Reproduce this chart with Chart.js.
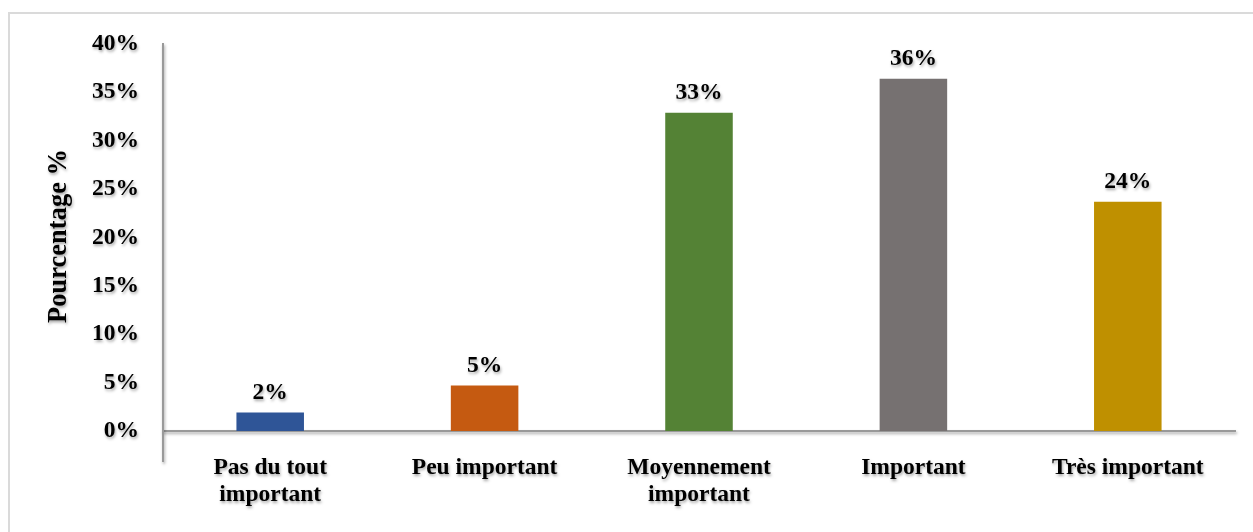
<!DOCTYPE html>
<html>
<head>
<meta charset="utf-8">
<script src="https://cdn.jsdelivr.net/npm/chart.js@4/dist/chart.umd.min.js"></script>
<style>
    html, body { margin: 0; padding: 0; background: #fff; overflow: hidden; }
    #frame {
        position: absolute; left: 8px; top: 12px;
        width: 1270px; height: 560px;
        border: 2px solid #dadada; box-sizing: border-box;
    }
    #chart { position: absolute; left: 0; top: 0; }
</style>
</head>
<body>
<div id="frame"></div>
<canvas id="chart" width="1253" height="532"></canvas>
<script>
// Categories and percentages
const categories = [['Pas du tout', 'important'], 'Peu important', ['Moyennement', 'important'], 'Important', 'Très important'];
const percentages = [1.9, 4.7, 32.9, 36.4, 23.7];
const barColors = ['#2F5597', '#C55A11', '#548235', '#767171', '#BF9000'];
const yTicks = [0, 5, 10, 15, 20, 25, 30, 35, 40];

const FONT = '"Liberation Serif", "Times New Roman", serif';
const shadowOn = ctx => {
    ctx.shadowColor = 'rgba(0, 0, 0, 0.35)';
    ctx.shadowBlur = 3;
    ctx.shadowOffsetX = 1;
    ctx.shadowOffsetY = 2;
};
const shadowOff = ctx => {
    ctx.shadowColor = 'rgba(0, 0, 0, 0)';
    ctx.shadowBlur = 0;
    ctx.shadowOffsetX = 0;
    ctx.shadowOffsetY = 0;
};

// Soft shadow on text only, bars stay flat
const textShadow = {
    id: 'textShadow',
    beforeDraw(chart) { shadowOn(chart.ctx); },
    beforeDatasetsDraw(chart) { shadowOff(chart.ctx); },
    afterDatasetsDraw(chart) { shadowOn(chart.ctx); }
};

// Value labels above each bar
const valueLabels = {
    id: 'valueLabels',
    afterDatasetsDraw(chart) {
        const ctx = chart.ctx;
        ctx.save();
        shadowOn(ctx);
        ctx.font = 'bold 23.5px ' + FONT;
        ctx.fillStyle = '#000';
        ctx.textAlign = 'center';
        ctx.textBaseline = 'alphabetic';
        chart.getDatasetMeta(0).data.forEach((bar, i) => {
            ctx.fillText(Math.round(percentages[i]) + '%', bar.x, bar.y - 14);
        });
        ctx.restore();
    },
    afterDraw(chart) { shadowOff(chart.ctx); }
};

new Chart(document.getElementById('chart').getContext('2d'), {
    type: 'bar',
    data: {
        labels: categories,
        datasets: [{
            data: percentages,
            backgroundColor: barColors,
            categoryPercentage: 1,
            barPercentage: 0.315
        }]
    },
    options: {
        responsive: false,
        animation: false,
        events: [],
        layout: { padding: { left: 0, right: 18, top: 44, bottom: 71 } },
        plugins: {
            legend: { display: false },
            tooltip: { enabled: false }
        },
        scales: {
            x: {
                position: { y: 0 },
                offset: true,
                grid: { display: false, drawTicks: false },
                border: { color: '#999', width: 2 },
                ticks: {
                    color: '#000',
                    padding: 24,
                    maxRotation: 0,
                    autoSkip: false,
                    font: { family: FONT, size: 23.5, weight: 'bold', lineHeight: 1.13 }
                }
            },
            y: {
                min: -3.1,
                max: 40,
                afterFit(scale) { scale.width = 163; },
                afterBuildTicks(scale) {
                    scale.ticks = yTicks.map(v => ({ value: v }));
                },
                grid: { display: false, drawTicks: false },
                border: { color: '#999', width: 2 },
                ticks: {
                    color: '#000',
                    padding: 24,
                    callback: v => v + '%',
                    font: { family: FONT, size: 23.5, weight: 'bold' }
                },
                title: {
                    display: true,
                    // leading spaces lift the title to the middle of the 0–40% range
                    text: '     Pourcentage %',
                    color: '#000',
                    padding: { top: 43, bottom: 0 },
                    font: { family: FONT, size: 26.5, weight: 'bold' }
                }
            }
        }
    },
    plugins: [textShadow, valueLabels]
});
</script>
</body>
</html>
